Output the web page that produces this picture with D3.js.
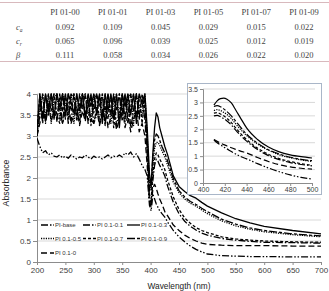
<!DOCTYPE html>
<html><head><meta charset="utf-8">
<script src="https://cdn.jsdelivr.net/npm/d3@7"></script>
<style>body{margin:0;background:#fff}svg{display:block}</style>
</head><body>
<svg id="c" width="329" height="291"></svg>
<script>
// ---------- table data ----------
const tableCols = ["PI 01-00","PI 01-01","PI 01-03","PI 01-05","PI 01-07","PI 01-09"];
const caValues = ["0.092","0.109","0.045","0.029","0.015","0.022"];
const crValues = ["0.065","0.096","0.039","0.025","0.012","0.019"];
const betaValues = ["0.111","0.058","0.034","0.026","0.022","0.020"];

// ---------- main chart data ----------
const xTicks = [200,250,300,350,400,450,500,550,600,650,700];
const yTicks = [0,0.5,1,1.5,2,2.5,3,3.5,4];
const wavelengths = [200,205,210,215,220,225,230,235,240,245,250,255,260,265,270,275,280,285,290,295,300,305,310,315,320,325,330,335,340,345,350,355,360,365,370,375,380,385,390,
  394,398,401,404,407,410,413,416,420,425,430,440,450,460,470,480,490,500,525,550,575,600,650,700];
const seriesNames = ["PI-base","PI 0.1-0.1","PI 0.1-0.3","PI 0.1-0.5","PI 0.1-0.7","PI 0.1-0.9","PI 0.1-0"];
const piBase = [2.95,2.75,2.6,2.65,2.55,2.6,2.52,2.5,2.55,2.48,2.52,2.47,2.55,2.5,2.45,2.5,2.48,2.55,2.5,2.45,2.52,2.48,2.5,2.45,2.5,2.55,2.48,2.52,2.5,2.55,2.5,2.6,2.55,2.62,2.5,2.58,2.45,2.3,2.2,
  2.05,1.35,1.22,1.62,1.5,1.38,1.3,1.22,1.15,1.07,0.95,0.75,0.6,0.48,0.38,0.3,0.24,0.19,0.15,0.14,0.13,0.13,0.12,0.12];
const pi01 = [3.0,3.5,4,3.3,3.7,4,3.4,4,3.6,3.3,4,3.55,3.35,4,3.6,3.3,4,3.45,3.7,4,3.3,3.5,4,3.6,3.3,4,3.5,4,3.25,3.6,4,3.4,4,3.2,3.6,4,3.5,3.8,3.4,
  2.6,1.5,1.4,1.95,2.3,2.45,2.4,2.3,2.2,2.05,1.8,1.42,1.15,0.97,0.85,0.76,0.69,0.64,0.56,0.52,0.49,0.47,0.46,0.45];
const pi03 = [3.05,4,3.4,4,3.6,4,3.45,4,3.7,4,3.5,4,3.8,3.55,4,3.6,4,3.4,4,3.7,4,3.5,4,3.3,4,3.6,4,3.4,4,3.2,4,3.7,4,3.5,4,3.3,4,3.8,4,
  3.2,2.1,1.8,2.6,3.2,3.55,3.45,3.2,3.0,2.75,2.55,2.05,1.8,1.68,1.58,1.52,1.42,1.33,1.17,1.03,0.93,0.85,0.75,0.67];
const pi05 = [3.0,3.6,4,3.45,4,3.3,3.9,4,3.4,4,3.75,3.45,4,3.3,4,3.5,3.9,4,3.6,3.35,4,3.65,3.4,4,3.55,4,3.3,3.8,4,3.45,4,3.3,3.9,4,3.25,4,3.7,3.5,4,
  3.0,1.9,1.7,2.3,2.7,2.85,2.85,2.78,2.65,2.5,2.3,1.9,1.65,1.5,1.4,1.33,1.24,1.15,0.98,0.86,0.78,0.72,0.65,0.6];
const pi07 = [3.1,4,3.55,3.35,4,3.6,4,3.5,3.3,4,3.4,4,3.6,4,3.35,3.75,4,3.5,4,3.25,3.8,4,3.3,3.6,4,3.4,4,3.2,3.7,4,3.5,4,3.3,3.7,4,3.45,4,3.3,3.9,
  2.7,1.6,1.5,2.1,2.45,2.6,2.55,2.45,2.35,2.2,1.95,1.55,1.25,1.05,0.92,0.82,0.75,0.7,0.6,0.55,0.52,0.5,0.48,0.47];
const pi09 = [3.2,3.9,3.3,4,3.5,3.8,4,3.35,4,3.6,4,3.3,4,3.9,3.45,4,3.65,4,3.3,4,3.55,4,3.7,4,3.25,4,3.55,4,3.6,4,3.35,4,3.5,4,3.6,4,3.4,4,3.6,
  2.9,1.7,1.9,2.5,2.9,3.05,3.0,2.9,2.75,2.6,2.4,1.98,1.7,1.55,1.44,1.37,1.28,1.2,1.02,0.9,0.81,0.75,0.67,0.62];
const pi00 = [3.0,3.3,3.6,3.4,3.8,3.35,3.6,3.4,3.9,3.3,3.55,3.8,3.3,3.5,3.7,3.25,3.6,3.35,3.8,3.4,3.3,3.65,3.25,3.5,3.7,3.2,3.45,3.6,3.15,3.4,3.75,3.2,3.5,3.1,3.4,3.6,3.1,3.3,3.0,
  2.3,1.45,1.3,1.75,1.85,1.75,1.62,1.5,1.38,1.2,1.1,0.88,0.75,0.64,0.56,0.5,0.45,0.42,0.4,0.39,0.39,0.39,0.38,0.38];

// ---------- inset data ----------
const insetXTicks = [400,420,440,460,480,500];
const insetYTicks = [0,0.5,1,1.5,2,2.5,3,3.5];
const insetWavelengths = [410,413,416,419,422,426,430,435,440,450,460,470,480,490,500];
const insetBase = [1.6,1.5,1.42,1.34,1.27,1.17,1.08,0.98,0.9,0.72,0.56,0.42,0.3,0.21,0.15];
const inset01 = [2.5,2.52,2.47,2.4,2.31,2.16,1.97,1.75,1.56,1.25,1.02,0.87,0.76,0.69,0.64];
const inset03 = [2.9,3.06,3.14,3.16,3.12,2.98,2.72,2.38,2.05,1.62,1.34,1.16,1.05,0.98,0.93];
const inset05 = [2.7,2.73,2.7,2.63,2.55,2.4,2.2,1.97,1.77,1.45,1.22,1.05,0.94,0.86,0.8];
const inset07 = [2.6,2.62,2.57,2.5,2.41,2.25,2.05,1.82,1.62,1.3,1.07,0.91,0.8,0.72,0.66];
const inset09 = [2.85,2.88,2.84,2.76,2.66,2.5,2.3,2.05,1.82,1.48,1.24,1.08,0.96,0.88,0.83];
const inset00 = [1.62,1.55,1.49,1.43,1.38,1.31,1.25,1.18,1.12,0.95,0.8,0.68,0.6,0.55,0.52];

const mainValues = [piBase,pi01,pi03,pi05,pi07,pi09,pi00];
const insetValues = [insetBase,inset01,inset03,inset05,inset07,inset09,inset00];
const dashStyles = ["7,2,1.5,1.8,1.5,2","7,2,1.5,2",null,"1.2,1.2","3,2","8,2,3,2","6,3"];

const svg = d3.select("#c");
const SANS = "Liberation Sans, Arial, sans-serif";
const SERIF = "Liberation Serif, Times New Roman, serif";

// ---------- table ----------
const tg = svg.append("g");
tg.append("line").attr("x1",0).attr("x2",329).attr("y1",2.5).attr("y2",2.5).attr("stroke","#d8b9bd").attr("stroke-width",1.2);
tg.append("line").attr("x1",0).attr("x2",329).attr("y1",61.5).attr("y2",61.5).attr("stroke","#d8b9bd").attr("stroke-width",1.2);
const colX = d3.scalePoint().domain(tableCols).range([65,304]);
const rowY = [12,27,41,55];
tableCols.forEach(c => {
  tg.append("text").attr("x",colX(c)).attr("y",rowY[0]+3).attr("text-anchor","middle")
    .attr("font-family",SERIF).attr("font-size",8.5).attr("fill","#444").text(c);
});
[caValues,crValues,betaValues].forEach((vals,ri) => {
  vals.forEach((v,ci) => {
    tg.append("text").attr("x",colX(tableCols[ci])).attr("y",rowY[ri+1]+3).attr("text-anchor","middle")
      .attr("font-family",SERIF).attr("font-size",8.5).attr("fill","#444").text(v);
  });
});
const lab1 = tg.append("text").attr("x",16).attr("y",rowY[1]+3).attr("font-family",SERIF).attr("font-size",8.5).attr("fill","#444").attr("font-style","italic");
lab1.append("tspan").text("c");
lab1.append("tspan").attr("font-size",5.5).attr("dy",2).text("a");
const lab2 = tg.append("text").attr("x",16).attr("y",rowY[2]+3).attr("font-family",SERIF).attr("font-size",8.5).attr("fill","#444").attr("font-style","italic");
lab2.append("tspan").text("c");
lab2.append("tspan").attr("font-size",5.5).attr("dy",2).text("r");
tg.append("text").attr("x",16).attr("y",rowY[3]+3).attr("font-family",SERIF).attr("font-size",8.5).attr("fill","#444").attr("font-style","italic").text("β");

// ---------- main chart ----------
const x = d3.scaleLinear().domain([200,700]).range([37,321]);
const y = d3.scaleLinear().domain([0,4]).range([262,94]);

const grid = svg.append("g");
yTicks.filter(t=>t>0).forEach(t => {
  grid.append("line").attr("x1",37).attr("x2",321).attr("y1",y(t)).attr("y2",y(t)).attr("stroke","#d9d9d9").attr("stroke-width",1);
});

const yAxis = svg.append("g").attr("transform","translate(37,0)")
  .call(d3.axisLeft(y).tickValues(yTicks).tickSize(4).tickPadding(2).tickFormat(d3.format("")));
const xAxis = svg.append("g").attr("transform","translate(0,262)")
  .call(d3.axisBottom(x).tickValues(xTicks).tickSize(3).tickPadding(2).tickFormat(d3.format("")));
[yAxis,xAxis].forEach(a => {
  a.select(".domain").attr("stroke","#8c8c8c");
  a.selectAll(".tick line").attr("stroke","#8c8c8c");
  a.selectAll("text").attr("font-family",SANS).attr("font-size",8).attr("fill","#404040");
});

svg.append("text").attr("x",179).attr("y",288.5).attr("text-anchor","middle").attr("font-family",SANS)
  .attr("font-size",8.3).attr("fill","#222").text("Wavelength (nm)");
svg.append("text").attr("transform","translate(9,183) rotate(-90)").attr("text-anchor","middle").attr("font-family",SANS)
  .attr("font-size",8.8).attr("fill","#222").text("Absorbance");

// legend
const legendCols = [41,83,127];
const legendRows = [225,238.5,253];
const lg = svg.append("g");
seriesNames.forEach((name,i) => {
  const lx = legendCols[i%3], ly = legendRows[Math.floor(i/3)];
  const ln = lg.append("line").attr("x1",lx).attr("x2",lx+13).attr("y1",ly).attr("y2",ly)
    .attr("stroke","#000").attr("stroke-width",1.3);
  if (dashStyles[i]) ln.attr("stroke-dasharray",dashStyles[i]);
  lg.append("text").attr("x",lx+14).attr("y",ly+2).attr("font-family",SANS).attr("font-size",6).attr("fill","#333").text(name);
});

// lines
svg.append("clipPath").attr("id","mclip").append("rect").attr("x",37).attr("y",93).attr("width",286).attr("height",170);
const line = d3.line().x(d=>x(d[0])).y(d=>y(d[1]));
const lines = svg.append("g").attr("clip-path","url(#mclip)");
mainValues.forEach((vals,i) => {
  const p = lines.append("path").datum(wavelengths.map((w,j)=>[w,vals[j]]))
    .attr("d",line).attr("fill","none").attr("stroke","#000").attr("stroke-width",1.3).attr("stroke-linejoin","round");
  if (dashStyles[i]) p.attr("stroke-dasharray",dashStyles[i]);
});

// ---------- inset ----------
const ig = svg.append("g");
ig.append("rect").attr("x",187.5).attr("y",83.5).attr("width",134).attr("height",111).attr("fill","#fff").attr("stroke","#a9b6c8").attr("stroke-width",1);
const ix = d3.scaleLinear().domain([400,500]).range([203,312]);
const iy = d3.scaleLinear().domain([0,3.5]).range([183,89]);
insetYTicks.filter(t=>t>0).forEach(t => {
  ig.append("line").attr("x1",203).attr("x2",315).attr("y1",iy(t)).attr("y2",iy(t)).attr("stroke","#d9d9d9").attr("stroke-width",1);
});
const iyAxis = ig.append("g").attr("transform","translate(203,0)")
  .call(d3.axisLeft(iy).tickValues(insetYTicks).tickSize(3).tickPadding(2).tickFormat(d3.format("")));
const ixAxis = ig.append("g").attr("transform","translate(0,183)")
  .call(d3.axisBottom(ix).tickValues(insetXTicks).tickSize(3).tickPadding(1).tickFormat(d3.format("")));
[iyAxis,ixAxis].forEach(a => {
  a.select(".domain").attr("stroke","#8c8c8c");
  a.selectAll(".tick line").attr("stroke","#8c8c8c");
  a.selectAll("text").attr("font-family",SANS).attr("font-size",7).attr("fill","#404040");
});
const iline = d3.line().x(d=>ix(d[0])).y(d=>iy(d[1])).curve(d3.curveMonotoneX);
insetValues.forEach((vals,i) => {
  const p = ig.append("path").datum(insetWavelengths.map((w,j)=>[w,vals[j]]))
    .attr("d",iline).attr("fill","none").attr("stroke","#000").attr("stroke-width",1.2);
  if (dashStyles[i]) p.attr("stroke-dasharray",dashStyles[i]);
});
</script>
</body></html>
